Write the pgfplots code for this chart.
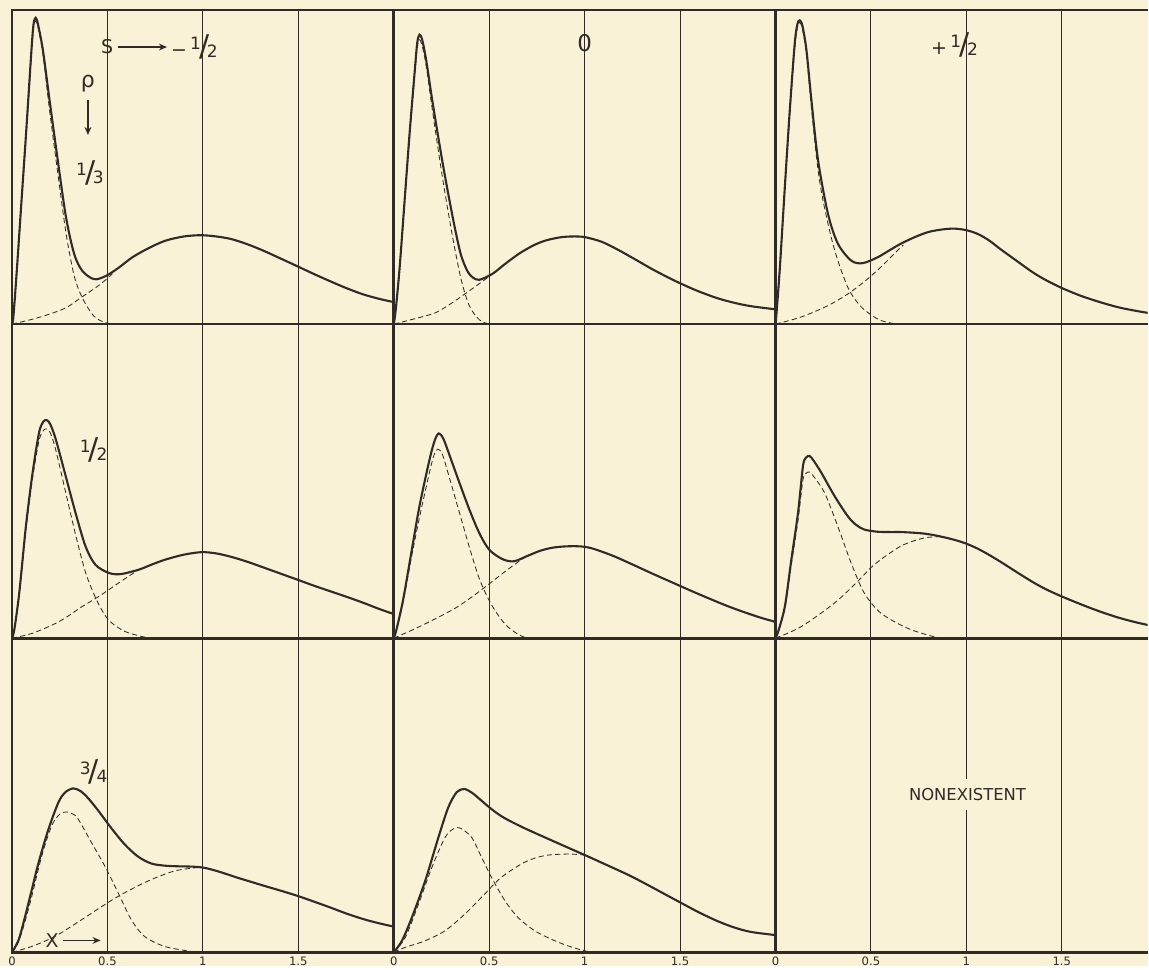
\documentclass[border=0pt]{standalone}
\usepackage{fontspec}
\setmainfont{Liberation Sans}
\newfontfamily\lbl{DejaVu Sans}
\usepackage{pgfplots}
\pgfplotsset{compat=1.18}
\usetikzlibrary{arrows.meta}
\definecolor{paper}{RGB}{249,242,215}
\definecolor{ink}{RGB}{48,43,38}
\newcommand{\fr}[2]{\raisebox{3.6pt}{\fontsize{8.5}{9}\selectfont #1}\kern-0.9pt{\fontsize{15}{15}\selectfont /}\kern-1.2pt\raisebox{-0.4pt}{\fontsize{8.5}{9}\selectfont #2}}
\tikzset{
 lab/.style={font=\lbl\fontsize{9.5}{10}\selectfont, text=ink, inner sep=0pt},
 arr/.style={ink, line width=0.75pt, -{Stealth[length=4pt,width=3.4pt]}},
}
\pgfplotsset{
 panel/.style={scale only axis, width=191pt, height=157.17pt, xmin=0, xmax=2, ymin=0, ymax=1, anchor=south west,
  axis line style={line width=1.35pt, ink}, ytick=\empty, xtick={0,0.5,1,1.5}, xticklabels={},
  major tick length=0pt, tick style={draw=none}, xmajorgrids, major grid style={line width=0.45pt, ink},
  xticklabel style={font=\lbl\fontsize{5.8}{6}\selectfont, text=ink, inner sep=2pt}},
 lastcol/.style={xmax=1.95, width=186.2pt, axis y line*=left},
 bot/.style={xticklabels={0,0.5,1,1.5}},
 sol/.style={ink, line width=1.05pt, smooth, tension=0.5, no markers},
 dsh/.style={ink, line width=0.42pt, dash pattern=on 2.6pt off 1.6pt, smooth, tension=0.5, no markers},
}
\begin{document}
\begin{tikzpicture}
\fill[paper] (0,0) rectangle (574.5pt,483.5pt);
% ---------- top left: rho=1/3, S=-1/2
\begin{axis}[panel, at={(6pt,321.33pt)}]
\addplot[dsh] coordinates {(0,0) (0.11,0.016) (0.197,0.032) (0.286,0.053) (0.363,0.085) (0.441,0.117) (0.493,0.142) (0.53,0.163)};
\addplot[dsh] coordinates {(0,0) (0.024,0.155) (0.05,0.385) (0.076,0.615) (0.102,0.86) (0.113,0.945) (0.124,0.965) (0.136,0.945) (0.162,0.86) (0.197,0.68) (0.24,0.48) (0.283,0.29) (0.326,0.153) (0.369,0.083) (0.421,0.031) (0.46,0.012) (0.5,0.003) (0.53,0)};
\addplot[sol] coordinates {(0,0) (0.007,0.021) (0.024,0.16) (0.05,0.394) (0.076,0.628) (0.102,0.873) (0.113,0.955) (0.124,0.975) (0.136,0.955) (0.162,0.872) (0.197,0.712) (0.24,0.521) (0.283,0.34) (0.326,0.223) (0.369,0.169) (0.43,0.143) (0.491,0.153) (0.56,0.18) (0.629,0.212) (0.71,0.24) (0.801,0.265) (0.9,0.279) (0.991,0.283) (1.07,0.279) (1.147,0.271) (1.23,0.255) (1.32,0.233) (1.41,0.208) (1.492,0.185) (1.58,0.16) (1.665,0.137) (1.75,0.115) (1.838,0.095) (1.92,0.081) (2.0,0.07)};
\node[lab] at (rel axis cs:0.249,0.882) {S};
\draw[arr] (rel axis cs:0.277,0.882) -- (rel axis cs:0.406,0.882);
\node[lab] at (rel axis cs:0.478,0.882) {−\,\fr{1}{2}};
\node[lab, font=\lbl\fontsize{11}{12}\selectfont] at (rel axis cs:0.199,0.765) {ρ};
\draw[arr] (rel axis cs:0.199,0.715) -- (rel axis cs:0.199,0.602);
\node[lab] at (rel axis cs:0.204,0.482) {\fr{1}{3}};
\end{axis}
% ---------- top middle: S=0
\begin{axis}[panel, at={(197pt,321.33pt)}]
\addplot[dsh] coordinates {(0,0) (0.135,0.021) (0.222,0.037) (0.309,0.069) (0.396,0.106) (0.483,0.144) (0.53,0.167)};
\addplot[dsh] coordinates {(0,0) (0.01,0.04) (0.031,0.175) (0.057,0.385) (0.083,0.595) (0.109,0.785) (0.123,0.88) (0.135,0.905) (0.149,0.885) (0.17,0.822) (0.205,0.67) (0.257,0.46) (0.309,0.275) (0.35,0.15) (0.385,0.075) (0.413,0.04) (0.45,0.013) (0.483,0.003) (0.52,0)};
\addplot[sol] coordinates {(0,0) (0.01,0.043) (0.031,0.181) (0.057,0.394) (0.083,0.607) (0.109,0.799) (0.123,0.895) (0.135,0.921) (0.149,0.905) (0.17,0.84) (0.205,0.70) (0.257,0.51) (0.309,0.34) (0.35,0.225) (0.385,0.17) (0.413,0.149) (0.448,0.141) (0.517,0.16) (0.58,0.19) (0.656,0.224) (0.73,0.25) (0.795,0.266) (0.87,0.276) (0.934,0.279) (1.0,0.277) (1.09,0.262) (1.177,0.236) (1.265,0.206) (1.351,0.176) (1.42,0.154) (1.49,0.133) (1.59,0.106) (1.698,0.082) (1.79,0.067) (1.872,0.057) (2.0,0.047)};
\node[lab, font=\lbl\fontsize{11.5}{12}\selectfont] at (axis cs:1.0,0.895) {0};
\end{axis}
% ---------- top right: S=+1/2
\begin{axis}[panel, lastcol, at={(388pt,321.33pt)}]
\addplot[dsh] coordinates {(0,0) (0.136,0.023) (0.275,0.059) (0.379,0.096) (0.483,0.144) (0.57,0.192) (0.64,0.235) (0.67,0.252)};
\addplot[dsh] coordinates {(0,0) (0.005,0.03) (0.023,0.175) (0.049,0.43) (0.075,0.67) (0.101,0.88) (0.115,0.945) (0.127,0.96) (0.141,0.94) (0.162,0.86) (0.188,0.69) (0.223,0.49) (0.257,0.37) (0.31,0.235) (0.379,0.117) (0.449,0.055) (0.536,0.016) (0.6,0.004) (0.64,0)};
\addplot[sol] coordinates {(0,0) (0.005,0.032) (0.023,0.181) (0.049,0.437) (0.075,0.682) (0.101,0.895) (0.115,0.955) (0.127,0.967) (0.141,0.95) (0.162,0.873) (0.188,0.714) (0.223,0.522) (0.275,0.351) (0.327,0.256) (0.397,0.202) (0.457,0.194) (0.536,0.213) (0.6,0.236) (0.657,0.256) (0.73,0.277) (0.8,0.293) (0.87,0.301) (0.936,0.304) (1.0,0.299) (1.06,0.287) (1.12,0.266) (1.18,0.238) (1.26,0.203) (1.35,0.164) (1.42,0.139) (1.5,0.115) (1.6,0.09) (1.7,0.07) (1.8,0.053) (1.9,0.041) (2.0,0.031)};
\node[lab] at (axis cs:0.938,0.889) {+\,\fr{1}{2}};
\end{axis}
% ---------- middle left: rho=1/2
\begin{axis}[panel, at={(6pt,164.17pt)}]
\addplot[dsh] coordinates {(0,0) (0.108,0.016) (0.247,0.053) (0.368,0.101) (0.455,0.133) (0.559,0.176) (0.663,0.218)};
\addplot[dsh] coordinates {(0,0) (0.012,0.026) (0.038,0.14) (0.073,0.345) (0.108,0.51) (0.142,0.63) (0.165,0.662) (0.182,0.666) (0.2,0.655) (0.229,0.6) (0.281,0.465) (0.333,0.33) (0.385,0.21) (0.437,0.13) (0.48,0.08) (0.52,0.05) (0.594,0.021) (0.698,0.003) (0.75,0)};
\addplot[sol] coordinates {(0,0) (0.012,0.027) (0.038,0.144) (0.073,0.357) (0.108,0.527) (0.142,0.655) (0.165,0.69) (0.182,0.694) (0.2,0.682) (0.229,0.634) (0.281,0.517) (0.333,0.399) (0.385,0.293) (0.437,0.234) (0.507,0.208) (0.568,0.204) (0.663,0.218) (0.73,0.234) (0.802,0.25) (0.9,0.266) (0.993,0.274) (1.07,0.27) (1.149,0.259) (1.235,0.243) (1.323,0.224) (1.41,0.205) (1.497,0.186) (1.583,0.167) (1.67,0.149) (1.757,0.131) (1.844,0.112) (1.92,0.094) (2.0,0.077)};
\node[lab] at (rel axis cs:0.214,0.60) {\fr{1}{2}};
\end{axis}
% ---------- middle middle
\begin{axis}[panel, at={(197pt,164.17pt)}]
\addplot[dsh] coordinates {(0,0) (0.135,0.037) (0.309,0.091) (0.413,0.133) (0.517,0.181) (0.6,0.22) (0.68,0.255)};
\addplot[dsh] coordinates {(0,0) (0.014,0.025) (0.049,0.115) (0.092,0.255) (0.135,0.385) (0.188,0.53) (0.212,0.585) (0.231,0.602) (0.255,0.585) (0.292,0.51) (0.344,0.4) (0.396,0.29) (0.448,0.19) (0.5,0.12) (0.552,0.069) (0.6,0.035) (0.656,0.011) (0.7,0)};
\addplot[sol] coordinates {(0,0) (0.014,0.027) (0.049,0.122) (0.092,0.272) (0.135,0.421) (0.188,0.57) (0.215,0.63) (0.236,0.652) (0.26,0.635) (0.292,0.583) (0.344,0.495) (0.396,0.41) (0.448,0.335) (0.5,0.282) (0.569,0.252) (0.63,0.245) (0.708,0.264) (0.77,0.279) (0.83,0.288) (0.89,0.292) (0.951,0.293) (1.0,0.291) (1.05,0.284) (1.15,0.262) (1.25,0.235) (1.35,0.207) (1.45,0.18) (1.55,0.153) (1.65,0.127) (1.75,0.102) (1.85,0.08) (1.93,0.064) (2.0,0.052)};
\end{axis}
% ---------- middle right
\begin{axis}[panel, lastcol, at={(388pt,164.17pt)}]
\addplot[dsh] coordinates {(0,0) (0.135,0.037) (0.309,0.112) (0.431,0.181) (0.517,0.234) (0.656,0.293) (0.778,0.319) (0.865,0.323)};
\addplot[dsh] coordinates {(0,0) (0.014,0.02) (0.049,0.095) (0.083,0.235) (0.118,0.375) (0.144,0.505) (0.16,0.525) (0.179,0.529) (0.2,0.515) (0.257,0.463) (0.326,0.357) (0.396,0.24) (0.465,0.144) (0.552,0.08) (0.691,0.032) (0.83,0.005) (0.9,0)};
\addplot[sol] coordinates {(0,0) (0.014,0.021) (0.049,0.101) (0.083,0.25) (0.118,0.399) (0.144,0.548) (0.16,0.575) (0.179,0.58) (0.2,0.565) (0.24,0.527) (0.309,0.453) (0.378,0.389) (0.42,0.362) (0.465,0.346) (0.535,0.339) (0.6,0.338) (0.656,0.338) (0.72,0.336) (0.78,0.333) (0.84,0.327) (0.9,0.319) (0.95,0.311) (1.0,0.301) (1.06,0.285) (1.12,0.265) (1.18,0.243) (1.26,0.212) (1.35,0.178) (1.42,0.155) (1.5,0.133) (1.6,0.108) (1.7,0.085) (1.8,0.065) (1.9,0.049) (2.0,0.036)};
\end{axis}
% ---------- bottom left: rho=3/4
\begin{axis}[panel, bot, at={(6pt,7pt)}]
\addplot[dsh] coordinates {(0,0) (0.104,0.019) (0.226,0.051) (0.365,0.104) (0.486,0.152) (0.573,0.184) (0.712,0.227) (0.851,0.259) (0.972,0.27)};
\addplot[dsh] coordinates {(0,0) (0.035,0.035) (0.069,0.1) (0.104,0.179) (0.156,0.307) (0.208,0.403) (0.25,0.44) (0.286,0.447) (0.32,0.44) (0.347,0.424) (0.417,0.349) (0.486,0.275) (0.556,0.19) (0.625,0.104) (0.694,0.051) (0.799,0.019) (0.938,0.003) (1.0,0)};
\addplot[sol] coordinates {(0,0) (0.035,0.04) (0.069,0.115) (0.104,0.2) (0.139,0.285) (0.191,0.392) (0.243,0.477) (0.278,0.509) (0.321,0.522) (0.36,0.513) (0.4,0.49) (0.451,0.452) (0.521,0.395) (0.59,0.344) (0.66,0.305) (0.729,0.283) (0.8,0.276) (0.87,0.274) (0.94,0.273) (1.0,0.27) (1.05,0.263) (1.1,0.254) (1.18,0.238) (1.25,0.225) (1.32,0.212) (1.41,0.196) (1.5,0.179) (1.58,0.162) (1.667,0.143) (1.75,0.124) (1.84,0.106) (1.92,0.093) (2.0,0.082)};
\node[lab] at (rel axis cs:0.214,0.573) {\fr{3}{4}};
\node[lab] at (rel axis cs:0.105,0.038) {X};
\draw[arr] (rel axis cs:0.134,0.038) -- (rel axis cs:0.232,0.038);
\end{axis}
% ---------- bottom middle
\begin{axis}[panel, bot, at={(197pt,7pt)}]
\addplot[dsh] coordinates {(0,0) (0.061,0.016) (0.165,0.037) (0.269,0.069) (0.373,0.122) (0.477,0.186) (0.564,0.239) (0.686,0.287) (0.79,0.308) (0.911,0.313) (1.0,0.31)};
\addplot[dsh] coordinates {(0,0) (0.061,0.048) (0.13,0.154) (0.2,0.271) (0.269,0.366) (0.312,0.393) (0.347,0.396) (0.408,0.366) (0.46,0.303) (0.512,0.239) (0.582,0.165) (0.651,0.111) (0.738,0.069) (0.825,0.042) (0.911,0.021) (1.0,0.005) (1.05,0)};
\addplot[sol] coordinates {(0,0) (0.043,0.037) (0.095,0.111) (0.165,0.228) (0.234,0.366) (0.286,0.462) (0.33,0.51) (0.37,0.52) (0.41,0.508) (0.45,0.488) (0.5,0.462) (0.55,0.439) (0.6,0.421) (0.686,0.395) (0.825,0.357) (1.0,0.31) (1.12,0.277) (1.241,0.243) (1.351,0.208) (1.43,0.182) (1.507,0.157) (1.6,0.127) (1.698,0.099) (1.785,0.079) (1.872,0.065) (2.0,0.055)};
\end{axis}
% ---------- bottom right
\begin{axis}[panel, lastcol, bot, at={(388pt,7pt)}]
\node[lab, fill=paper, inner xsep=2pt, inner ysep=4.5pt, font=\lbl\fontsize{8.2}{10}\selectfont] at (axis cs:1.006,0.503) {NONEXISTENT};
\end{axis}
\end{tikzpicture}
\end{document}
